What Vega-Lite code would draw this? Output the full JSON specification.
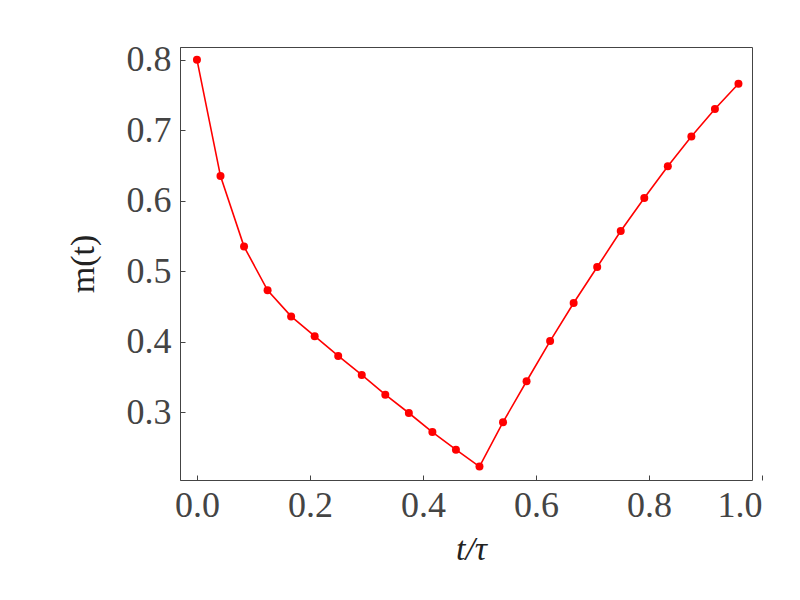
{
  "$schema": "https://vega.github.io/schema/vega-lite/v6.json",
  "width": 572,
  "height": 433,
  "autosize": "none",
  "padding": {"left": 180, "top": 47, "right": 48, "bottom": 120},
  "background": "white",
  "config": {
    "view": {"stroke": "#444444", "strokeWidth": 1},
    "axis": {
      "grid": false,
      "domainColor": "#444444",
      "tickColor": "#444444",
      "labelColor": "#444444",
      "titleColor": "#222222",
      "labelFont": "Liberation Serif",
      "titleFont": "Liberation Serif",
      "labelFontSize": 36,
      "titleFontSize": 34,
      "titleFontWeight": "normal",
      "tickSize": -5,
      "domainWidth": 1
    }
  },
  "data": {
    "values": [
      {"t": 0.0, "m": 0.800},
      {"t": 0.041667, "m": 0.635},
      {"t": 0.083333, "m": 0.535},
      {"t": 0.125, "m": 0.473},
      {"t": 0.166667, "m": 0.436},
      {"t": 0.208333, "m": 0.408},
      {"t": 0.25, "m": 0.380},
      {"t": 0.291667, "m": 0.353},
      {"t": 0.333333, "m": 0.325},
      {"t": 0.375, "m": 0.299},
      {"t": 0.416667, "m": 0.272},
      {"t": 0.458333, "m": 0.247},
      {"t": 0.5, "m": 0.223},
      {"t": 0.541667, "m": 0.286},
      {"t": 0.583333, "m": 0.344},
      {"t": 0.625, "m": 0.401},
      {"t": 0.666667, "m": 0.455},
      {"t": 0.708333, "m": 0.506},
      {"t": 0.75, "m": 0.557},
      {"t": 0.791667, "m": 0.604},
      {"t": 0.833333, "m": 0.649},
      {"t": 0.875, "m": 0.691},
      {"t": 0.916667, "m": 0.730},
      {"t": 0.958333, "m": 0.766}
    ]
  },
  "encoding": {
    "x": {
      "field": "t",
      "type": "quantitative",
      "scale": {"domain": [-0.03, 1.0], "range": [0, 582], "nice": false, "zero": false},
      "axis": {
        "title": "t/τ",
        "titleFontStyle": "italic",
        "domain": false,
        "values": [0, 0.2, 0.4, 0.6, 0.8, 1.0],
        "format": ".1f",
        "labelPadding": 13,
        "titlePadding": 9
      }
    },
    "y": {
      "field": "m",
      "type": "quantitative",
      "scale": {"domain": [0.204, 0.818], "nice": false, "zero": false},
      "axis": {
        "title": "m(t)",
        "values": [0.3, 0.4, 0.5, 0.6, 0.7, 0.8],
        "format": ".1f",
        "labelPadding": 14,
        "titlePadding": 26
      }
    }
  },
  "layer": [
    {"mark": {"type": "line", "color": "#ff0000", "strokeWidth": 1.6}},
    {"mark": {"type": "point", "filled": true, "color": "#ff0000", "opacity": 1, "size": 64}}
  ]
}
